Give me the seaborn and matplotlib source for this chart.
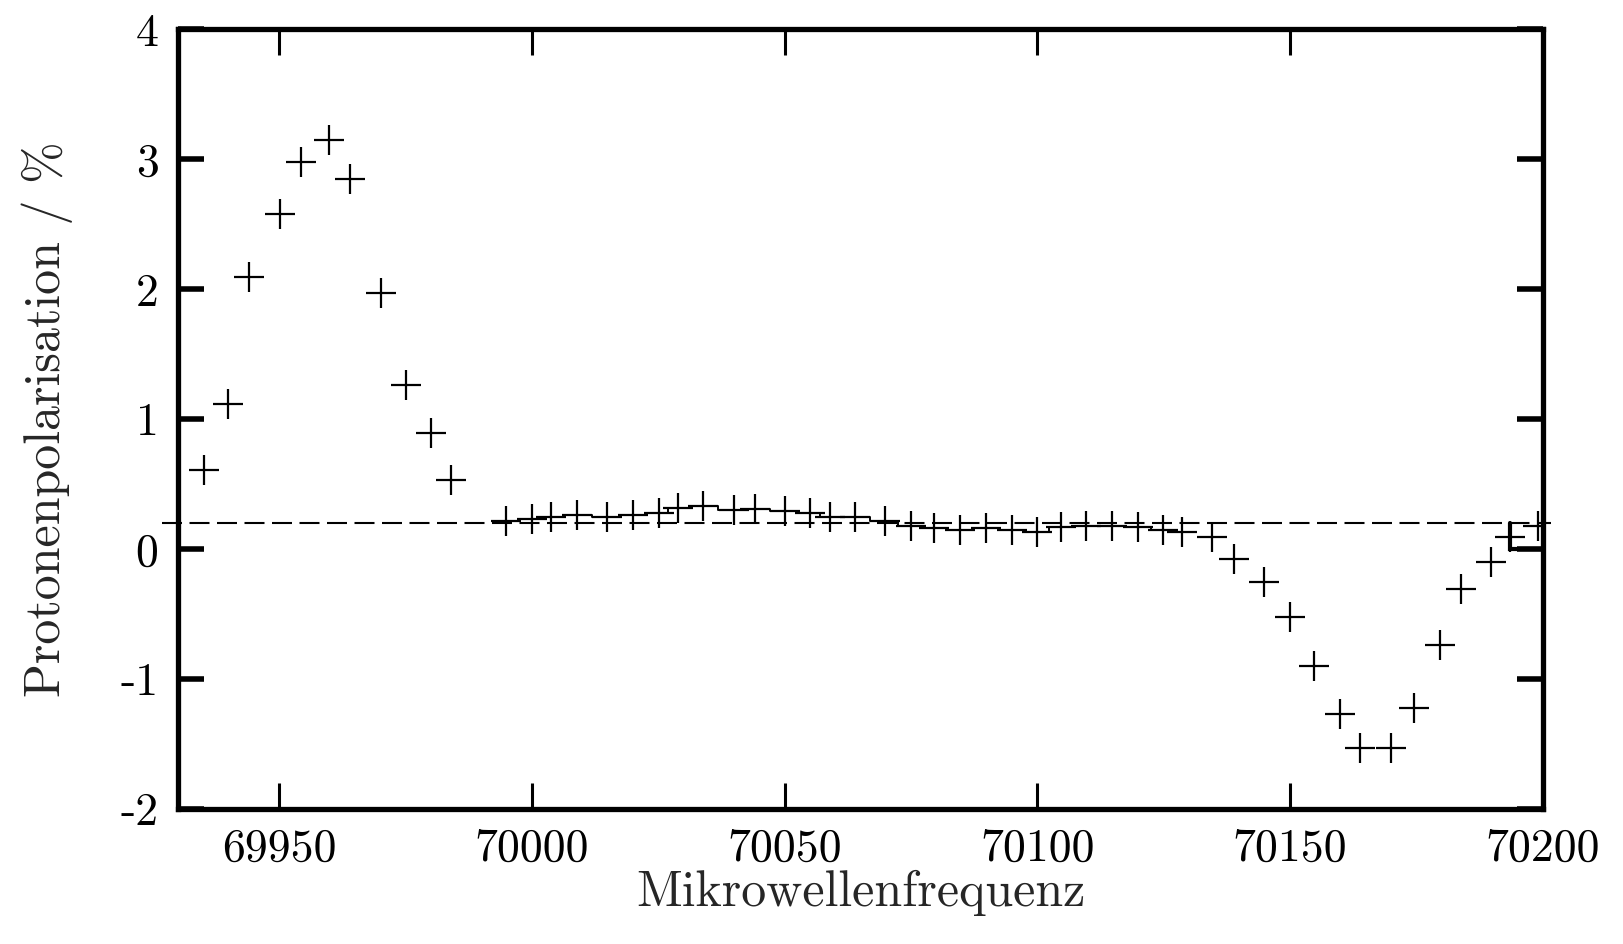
import matplotlib
matplotlib.use("Agg")
import matplotlib.pyplot as plt
import seaborn as sns

frequenz = [69935.2, 69939.9, 69944.1, 69950.2, 69954.3, 69959.9, 69964.0, 69970.1,
            69975.1, 69980.1, 69984.1,
            69994.9, 70000.0, 70003.8, 70008.9, 70014.8, 70020.0, 70025.1, 70028.9,
            70033.8, 70039.9, 70044.2, 70050.0, 70055.1, 70058.9, 70064.0, 70069.9,
            70075.0, 70079.6, 70084.7, 70089.8, 70094.9, 70099.9, 70104.6, 70109.7,
            70114.7, 70119.9, 70124.9, 70128.6,
            70134.6, 70139.0, 70144.8, 70150.0, 70154.7, 70159.8, 70163.9, 70169.9,
            70174.6, 70179.6, 70183.8, 70189.7, 70193.6, 70199.0]
polarisation = [0.61, 1.12, 2.09, 2.58, 2.98, 3.15, 2.85, 1.97, 1.26, 0.89, 0.53,
                0.22, 0.23, 0.25, 0.26, 0.25, 0.26, 0.28, 0.32, 0.33, 0.30, 0.31,
                0.29, 0.28, 0.25, 0.25, 0.22, 0.18, 0.16, 0.15, 0.16, 0.15, 0.13,
                0.17, 0.18, 0.18, 0.17, 0.15, 0.13,
                0.09, -0.08, -0.25, -0.52, -0.90, -1.27, -1.53, -1.53, -1.22,
                -0.74, -0.31, -0.10, 0.09, 0.18]

# Stufenlinie im flachen Bereich (Index 11 bis 38) und Abschluss am rechten Rand
stufe_start, stufe_ende = 11, 39
abschluss_x = [70193.6, 70193.6, 70200.0]
abschluss_y = [0.20, 0.0, 0.0]

grundlinie = 0.2   # gestrichelte Linie

x_ticks = [69950, 70000, 70050, 70100, 70150, 70200]
y_ticks = [-2, -1, 0, 1, 2, 3, 4]

# --- Stil ---
sns.set_theme(style="ticks")
plt.rcParams['font.family'] = ['cmr10', 'DejaVu Serif']
plt.rcParams['axes.unicode_minus'] = False
plt.rcParams['axes.formatter.use_mathtext'] = False

fig, ax = plt.subplots(figsize=(16.24, 9.44), dpi=100)
fig.subplots_adjust(left=0.1096, right=0.950, top=0.969, bottom=0.143)

# Messpunkte als Kreuze
sns.scatterplot(x=frequenz, y=polarisation, marker='+', s=470, color='black',
                linewidth=1.6, ax=ax, zorder=3)

# Stufenlinie
ax.plot(frequenz[stufe_start:stufe_ende], polarisation[stufe_start:stufe_ende],
        drawstyle='steps-mid', color='black', lw=1.4, zorder=2)
ax.plot(abschluss_x, abschluss_y, color='black', lw=3.0, zorder=2,
        solid_joinstyle='miter')

# gestrichelte Grundlinie (leicht ueber die Achsen hinaus)
ax.axhline(grundlinie, xmin=-0.012, xmax=1.006, color='black', lw=1.5,
           dashes=(9.6, 3.6), clip_on=False, zorder=2)

ax.set_xlim(69930, 70200)
ax.set_ylim(-2, 4)
ax.set_xticks(x_ticks)
ax.set_yticks(y_ticks)
ax.set_xticklabels([str(t) for t in x_ticks])
ax.set_yticklabels([str(t) for t in y_ticks])

for s in ax.spines.values():
    s.set_visible(True)
    s.set_linewidth(3.8)
    s.set_color('black')

ax.tick_params(axis='x', direction='in', length=19, width=2.2, top=True, bottom=True,
               labelsize=33, pad=14, colors='black')
ax.tick_params(axis='y', direction='in', length=19, width=4.0, right=True, left=True,
               labelsize=33, pad=14, colors='black')

ax.set_xlabel('Mikrowellenfrequenz', fontsize=36, labelpad=0)
ax.set_ylabel('Protonenpolarisation / %', fontsize=36, labelpad=34)

plt.savefig('out.png', dpi=100)
